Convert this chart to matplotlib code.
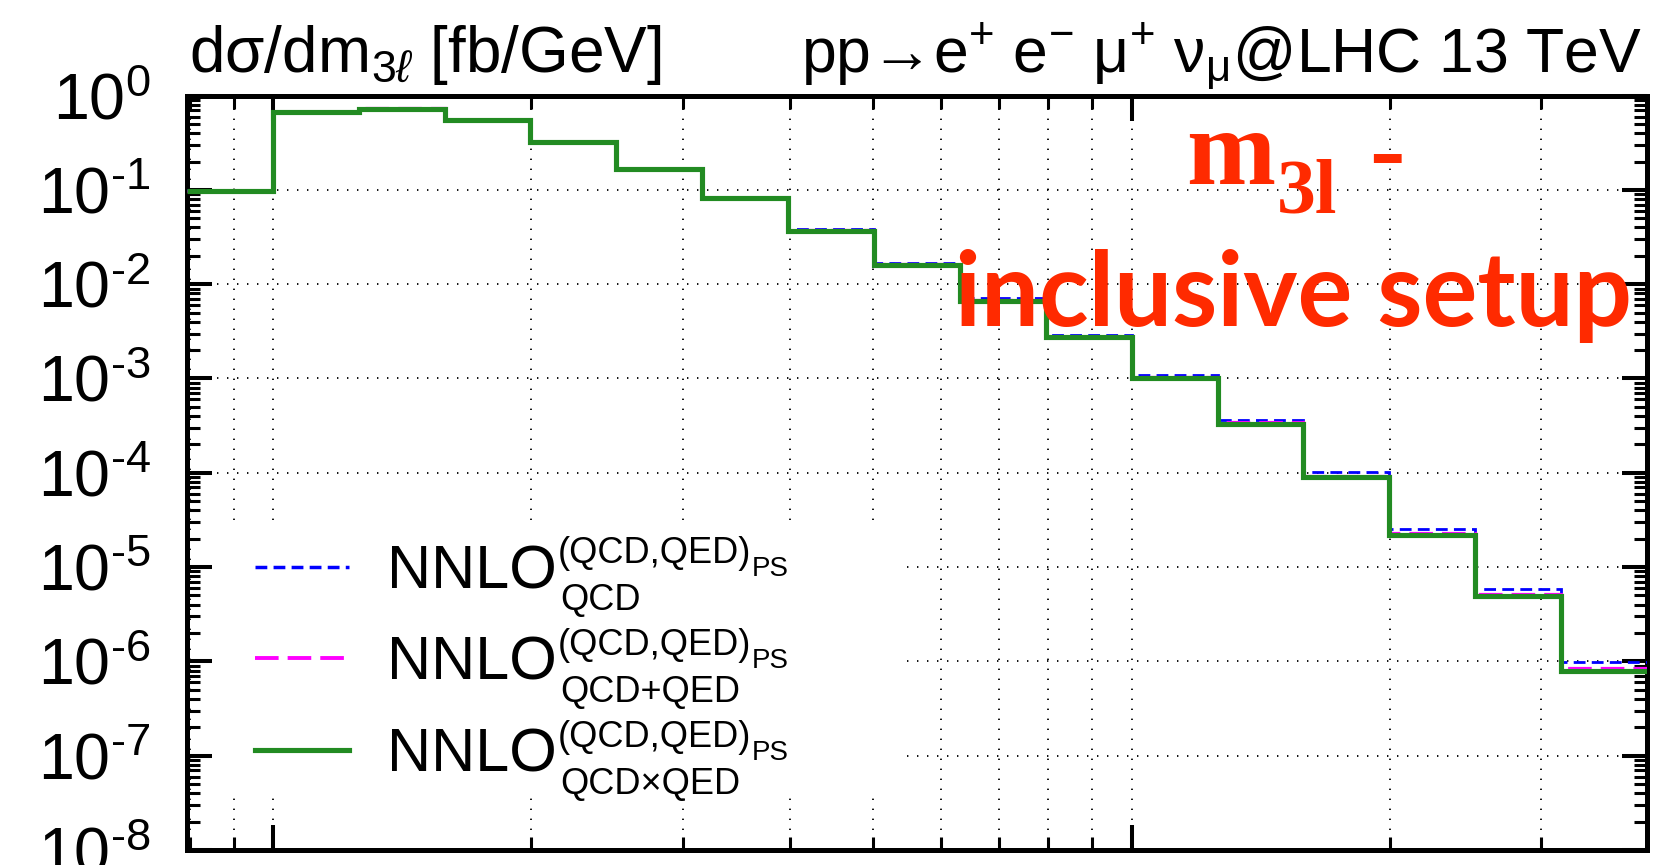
import matplotlib
matplotlib.use('Agg')
import matplotlib.pyplot as plt
from matplotlib.lines import Line2D
from matplotlib.patches import Rectangle
from matplotlib.ticker import LogLocator, NullFormatter, FuncFormatter
import math

plt.rcParams['font.family'] = ['Liberation Sans', 'DejaVu Sans']
plt.rcParams['mathtext.fontset'] = 'custom'
plt.rcParams['mathtext.rm'] = 'Liberation Sans'
plt.rcParams['mathtext.it'] = 'Liberation Sans:italic'
plt.rcParams['mathtext.bf'] = 'Liberation Sans:bold'
plt.rcParams['axes.unicode_minus'] = False
plt.rcParams['lines.scale_dashes'] = False

# ---- data (m_3l bins in GeV, dsigma/dm_3l in fb/GeV) ----
bin_edges = [79.43, 100.0, 125.9, 158.5, 199.5, 251.2, 316.2, 398.1, 501.2,
             631.0, 794.3, 1000.0, 1258.9, 1584.9, 1995.3, 2511.9, 3162.3, 3981.1]
nnlo_qcd = [0.100, 0.678, 0.741, 0.561, 0.330, 0.170, 0.0843, 0.0381, 0.0168,
            0.00708, 0.00292, 0.00109, 3.66e-4, 1.01e-4, 2.54e-5, 5.83e-6, 9.74e-7]
nnlo_qcd_plus_qed = [0.098, 0.665, 0.730, 0.550, 0.323, 0.1665, 0.0822, 0.0372, 0.01625,
                     0.00681, 0.00278, 0.00103, 3.42e-4, 9.3e-5, 2.30e-5, 5.2e-6, 8.5e-7]
nnlo_qcd_times_qed = [0.098, 0.665, 0.726, 0.547, 0.320, 0.165, 0.0814, 0.0366, 0.0160,
                      0.00668, 0.00273, 0.00100, 3.30e-4, 8.95e-5, 2.19e-5, 4.9e-6, 7.98e-7]
sub_labels = ['QCD', 'QCD+QED', 'QCD\u00d7QED']

W, H = 1666, 865
fig = plt.figure(figsize=(W / 100, H / 100), dpi=100)
ax = fig.add_axes([187 / W, 15 / H, 1460 / W, 754.4 / H])

blue_style = dict(color='#0000ff', lw=2.0, linestyle=(0, (8.5, 4.5)))
mag_style = dict(color='#ff00ff', lw=2.3, linestyle=(0, (17, 6.5)))
green_style = dict(color='#228b22', lw=3.7, linestyle='-')

ax.stairs(nnlo_qcd, bin_edges, baseline=None, zorder=3, **blue_style)
ax.stairs(nnlo_qcd_plus_qed, bin_edges, baseline=None, zorder=3.5, **mag_style)
ax.stairs(nnlo_qcd_times_qed, bin_edges, baseline=None, zorder=4, **green_style)

ax.set_xscale('log')
ax.set_yscale('log')
ax.set_xlim(bin_edges[0], bin_edges[-1])
ax.set_ylim(1e-8, 1)


def pow10(v, pos):
    e = int(round(math.log10(v)))
    s = str(e).replace('-', '\u2010')
    return '10$^{\\mathregular{' + s + '}}$'


ax.yaxis.set_major_locator(LogLocator(base=10, numticks=20))
ax.yaxis.set_major_formatter(FuncFormatter(pow10))
ax.yaxis.set_minor_locator(LogLocator(base=10, subs=[2, 3, 4, 5, 6, 7, 8, 9], numticks=20))
ax.yaxis.set_minor_formatter(NullFormatter())
ax.xaxis.set_major_locator(LogLocator(base=10, numticks=20))
ax.xaxis.set_minor_locator(LogLocator(base=10, subs=[2, 3, 4, 5, 6, 7, 8, 9], numticks=20))
ax.xaxis.set_minor_formatter(NullFormatter())

ax.tick_params(which='major', direction='in', length=18, width=2.9, top=True, right=True,
               labelbottom=False, labelsize=46.5, pad=26)
ax.tick_params(which='minor', direction='in', length=9.4, width=2.2, top=True, right=True)
for s in ax.spines.values():
    s.set_linewidth(3.6)

grid_style = dict(color='black', lw=1.3, linestyle=(0, (1.0, 6.2)))
ax.grid(True, which='major', axis='y', **grid_style)
ax.grid(True, which='both', axis='x', **grid_style)

# white background behind the legend
ax.add_patch(Rectangle((0.0199, 0.0703), 0.4698, 0.3671, transform=ax.transAxes,
                       facecolor='white', edgecolor='none', zorder=1.8))

handles = [Line2D([], [], **blue_style), Line2D([], [], **mag_style), Line2D([], [], **green_style)]
handles[0].set_linewidth(2.5)
handles[1].set_linewidth(2.8)
leg = ax.legend(handles, ['NNLO'] * 3, loc='upper left', bbox_to_anchor=(0.0466, 0.4056),
                borderaxespad=0, borderpad=0, frameon=False, fontsize=44,
                handlelength=1.54, handletextpad=0.62, labelspacing=0.57)
leg.set_zorder(5)
for t, sub in zip(leg.get_texts(), sub_labels):
    sup = ax.annotate('(QCD,QED)', xy=(1, 0), xycoords=t, xytext=(1, 38),
                      textcoords='offset pixels', fontsize=26, ha='left', va='baseline',
                      annotation_clip=False, zorder=7)
    ax.annotate('PS', xy=(1, 0), xycoords=sup, xytext=(1, -5),
                textcoords='offset pixels', fontsize=20, ha='left', va='baseline',
                annotation_clip=False, zorder=7)
    ax.annotate(sub, xy=(1, 0), xycoords=t, xytext=(3, -9),
                textcoords='offset pixels', fontsize=26, ha='left', va='baseline',
                annotation_clip=False, zorder=7)

# titles
fig.text(189 / W, 1 - 72 / H, 'd\u03c3/dm$_{3\\ell}$ [fb/GeV]', fontsize=46,
         ha='left', va='baseline')
fig.text(1642 / W, 1 - 72 / H,
         'pp\u2192e$^{\\mathregular{+}}$ e$^{\\mathregular{-}}$ \u03bc$^{\\mathregular{+}}$ '
         '\u03bd$_{\\mathregular{\u03bc}}$@LHC 13 TeV',
         fontsize=45, ha='right', va='baseline')

# red annotation
red = '#ff2a00'
fig.text(1186 / W, 1 - 184 / H, 'm', fontsize=77, family='Liberation Serif', weight='bold',
         color=red, ha='left', va='baseline')
fig.text(1277 / W, 1 - 213 / H, '3l', fontsize=56, family='Liberation Serif', weight='bold',
         color=red, ha='left', va='baseline')
fig.text(1369 / W, 1 - 184 / H, '-', fontsize=77, family='Liberation Serif', weight='bold',
         color=red, ha='left', va='baseline')
fig.text(955 / W, 1 - 326 / H, 'inclusive setup', fontsize=74, family='Lato', weight='bold',
         color=red, ha='left', va='baseline')

fig.canvas.draw()
fig.savefig('out.png', dpi=100)
